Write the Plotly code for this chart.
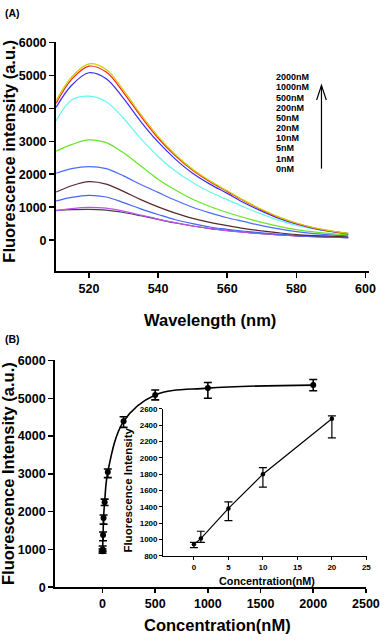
import plotly.graph_objects as go

# ---------------- Panel A data: emission spectra ----------------
wavelength = [510.5, 515, 520, 525, 530, 535, 540, 545, 550, 555, 560, 565, 570, 575, 580, 585, 590, 595]

spec_2000 = [4230, 4950, 5350, 5180, 4550, 3820, 3150, 2600, 2150, 1800, 1500, 1200, 930, 700, 520, 380, 280, 205]
spec_1000 = [4150, 4880, 5280, 5100, 4480, 3760, 3100, 2560, 2120, 1770, 1480, 1180, 920, 690, 510, 375, 275, 200]
spec_500 = [4030, 4700, 5080, 4900, 4300, 3600, 2980, 2460, 2030, 1700, 1420, 1130, 880, 660, 490, 360, 265, 190]
spec_200 = [3620, 4250, 4370, 4200, 3700, 3080, 2540, 2100, 1750, 1460, 1230, 1000, 790, 600, 450, 340, 260, 215]
spec_50 = [2700, 2900, 3040, 2960, 2650, 2250, 1850, 1520, 1240, 1020, 840, 680, 540, 420, 320, 250, 200, 170]
spec_20 = [2030, 2170, 2230, 2170, 1950, 1690, 1450, 1210, 1000, 830, 680, 560, 440, 340, 260, 200, 160, 130]
spec_10 = [1460, 1650, 1775, 1700, 1480, 1230, 1010, 820, 660, 540, 440, 350, 280, 220, 170, 140, 120, 100]
spec_5 = [1190, 1300, 1360, 1310, 1140, 950, 780, 620, 500, 400, 330, 270, 220, 180, 140, 115, 95, 80]
spec_1 = [895, 960, 995, 970, 880, 760, 640, 530, 430, 355, 290, 240, 195, 160, 130, 110, 90, 75]
spec_0 = [905, 925, 935, 910, 840, 740, 630, 520, 430, 350, 290, 240, 195, 160, 130, 110, 95, 80]

wl_ticks = [520, 540, 560, 580, 600]

conc_labels = ["2000nM", "1000nM", "500nM", "200nM", "50nM", "20nM", "10nM", "5nM", "1nM", "0nM"]
spectra = [spec_2000, spec_1000, spec_500, spec_200, spec_50, spec_20, spec_10, spec_5, spec_1, spec_0]
spec_colors = ["#c8d200", "#ff2020", "#3a2cf0", "#66f6f6", "#66e622",
               "#4a6cff", "#5a2a2a", "#4466ee", "#c050f0", "#404040"]

# ---------------- Panel B data: titration ----------------
conc_nm = [0, 1, 5, 10, 20, 50, 200, 500, 1000, 2000]
intensity = [950, 1000, 1380, 1830, 2250, 3050, 4390, 5090, 5270, 5350]
err_plus = [60, 90, 80, 80, 80, 80, 120, 130, 150, 150]
err_minus = [50, 45, 150, 160, 90, 150, 160, 130, 270, 150]

# inset (low concentration range)
inset_conc = [0, 1, 5, 10, 20]
inset_int = [940, 1010, 1380, 1800, 2480]
inset_err_plus = [25, 90, 80, 80, 35]
inset_err_minus = [40, 45, 150, 160, 235]

W, H = 392, 641
FONT = "Liberation Sans, Arial, sans-serif"


def px(x):
    return x / W


def py(y):
    return 1 - y / H


fig = go.Figure()

# spectra, drawn from the lowest curve up
for name, vals, col in reversed(list(zip(conc_labels, spectra, spec_colors))):
    fig.add_trace(go.Scatter(x=wavelength, y=vals, mode="lines", name=name,
                             line=dict(color=col, width=1.2, shape="spline"),
                             xaxis="x", yaxis="y", showlegend=False))

# main titration curve
fig.add_trace(go.Scatter(x=conc_nm, y=intensity, mode="lines+markers",
                         line=dict(color="black", width=1.6, shape="spline", smoothing=1.0),
                         marker=dict(color="black", size=6),
                         error_y=dict(type="data", symmetric=False, array=err_plus,
                                      arrayminus=err_minus, color="black", thickness=1.6, width=4),
                         xaxis="x2", yaxis="y2", showlegend=False))

# inset
fig.add_trace(go.Scatter(x=inset_conc, y=inset_int, mode="lines+markers",
                         line=dict(color="black", width=1.2),
                         marker=dict(color="black", size=4.5),
                         error_y=dict(type="data", symmetric=False, array=inset_err_plus,
                                      arrayminus=inset_err_minus, color="black", thickness=1.2, width=4),
                         xaxis="x3", yaxis="y3", showlegend=False))

axis_common = dict(showline=True, linecolor="black", showgrid=False, zeroline=False,
                   ticks="outside", tickcolor="black", mirror=False,
                   ticklabeloverflow="allow")

tick_big = dict(family=FONT, size=12.5, color="black", weight="bold")
tick_small = dict(family=FONT, size=8, color="black", weight="bold")

fig.update_layout(
    width=W, height=H,
    margin=dict(l=0, r=0, t=0, b=0),
    paper_bgcolor="white", plot_bgcolor="rgba(0,0,0,0)",
    font=dict(family=FONT, color="black"),
    xaxis=dict(**axis_common, domain=[px(58), px(381.6)], range=[510.5, 601],
               tickmode="array", tickvals=wl_ticks, ticktext=[str(t) for t in wl_ticks],
               linewidth=2, ticklen=5, tickwidth=1.5,
               tickfont=tick_big, anchor="y"),
    yaxis=dict(**axis_common, domain=[py(270), py(37)], range=[-921, 6005],
               tick0=0, dtick=1000, linewidth=2, ticklen=5, tickwidth=1.5,
               tickfont=tick_big, anchor="x"),
    xaxis2=dict(**axis_common, domain=[px(57), px(379)], range=[-450, 2505],
                tick0=0, dtick=500, linewidth=2, ticklen=4, tickwidth=1.5,
                tickfont=tick_big, anchor="y2"),
    yaxis2=dict(**axis_common, domain=[py(593.3), py(361.7)], range=[-3, 6005],
                tick0=0, dtick=1000, linewidth=2, ticklen=5, tickwidth=1.5,
                tickfont=tick_big, anchor="x2"),
    xaxis3=dict(**axis_common, domain=[px(169), px(380)], range=[-4.43, 25.15],
                tick0=0, dtick=5, linewidth=1.3, ticklen=3, tickwidth=1,
                tickfont=tick_small, anchor="y3"),
    yaxis3=dict(**axis_common, domain=[py(561.3), py(411)], range=[798, 2603],
                tick0=800, dtick=200, linewidth=1.3, ticklen=3, tickwidth=1,
                tickfont=tick_small, anchor="x3"),
)

ann = []


def label(text, x, y, size, bold=True, angle=0, xanchor="center"):
    ann.append(dict(text=text, x=px(x), y=py(y), xref="paper", yref="paper",
                    showarrow=False, textangle=angle, xanchor=xanchor, yanchor="middle",
                    font=dict(family=FONT, size=size, color="black",
                              weight="bold" if bold else "normal")))


label("(A)", 3, 7.5, 10.5, xanchor="left")
label("(B)", 3, 340, 10.5, xanchor="left")
label("Fluorescence intensity (a.u.)", 9, 148, 16.5, angle=-90)
label("Wavelength (nm)", 217, 320, 16.5)
label("Fluorescence Intensity (a.u.)", 9, 477, 16.5, angle=-90)
label("Concentration(nM)", 225, 632, 16.5)
label("Fluorescence Intensity", 132, 494, 11.5, angle=-90)
label("Concentration(nM)", 276, 587, 10.8)

# concentration list next to the spectra
for i, name in enumerate(conc_labels):
    label(name, 283, 72.7 + i * 10.37, 9, xanchor="left")

fig.update_layout(annotations=ann)

# upward arrow beside the list
fig.add_shape(type="line", xref="paper", yref="paper",
              x0=px(332.5), x1=px(332.5), y0=py(166), y1=py(81),
              line=dict(color="black", width=1.2))
fig.add_shape(type="path", xref="paper", yref="paper",
              path=f"M {px(327.5)},{py(96)} L {px(332.5)},{py(81)} L {px(337.5)},{py(96)}",
              line=dict(color="black", width=1.2))

fig.write_html(
    "out.html",
    config={"displayModeBar": False, "responsive": False, "staticPlot": True},
    post_script="document.documentElement.style.margin='0';document.body.style.margin='0';"
                "document.body.style.padding='0';document.documentElement.style.overflow='hidden';",
)
